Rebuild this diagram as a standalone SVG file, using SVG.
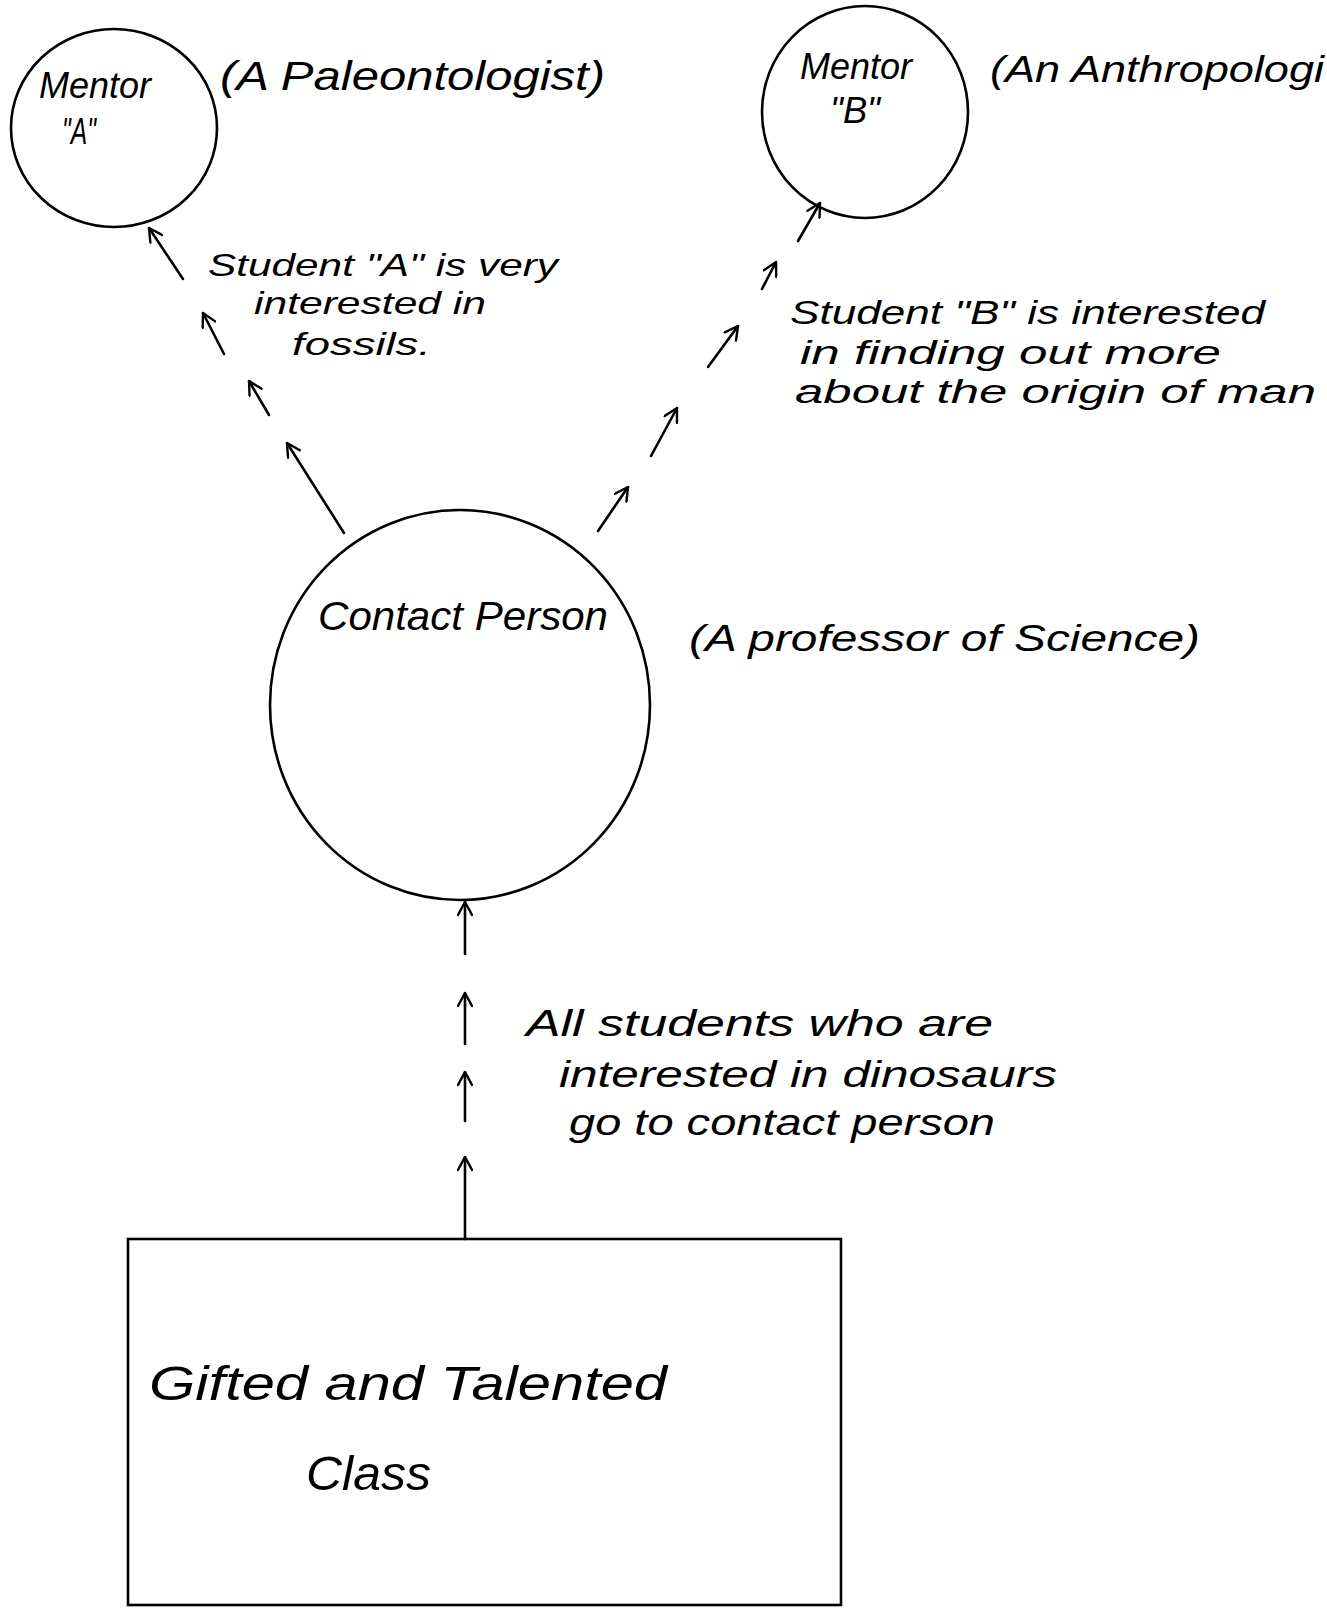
<svg xmlns="http://www.w3.org/2000/svg" width="1327" height="1608" viewBox="0 0 1327 1608">
  <defs>
    <marker id="head" viewBox="0 0 16 16" refX="15" refY="8" markerWidth="16" markerHeight="16" markerUnits="userSpaceOnUse" orient="auto">
      <path d="M2,1 L15,8 L2,15" fill="none" stroke="#000" stroke-width="2.4" stroke-linecap="round" stroke-linejoin="round"/>
    </marker>
  </defs>
  <style>
    .shape { fill: none; stroke: #000; stroke-width: 2.6; }
    .conn line { stroke: #000; stroke-width: 2.6; stroke-linecap: round; marker-end: url(#head); }
    text { font-family: "Liberation Sans", "DejaVu Sans", sans-serif; font-style: italic; fill: #000; }
    .lbl { font-size: 36px; }
    .note { font-size: 32px; }
    .note-b { font-size: 34px; }
    .name { font-size: 40px; }
    .big { font-size: 48px; }
  </style>

  <rect width="1327" height="1608" fill="#fff"/>

  <!-- Mentor A -->
  <g id="mentor-a">
    <ellipse class="shape" cx="114" cy="128" rx="103" ry="99"/>
    <text class="lbl" x="39" y="98" textLength="112" lengthAdjust="spacingAndGlyphs">Mentor</text>
    <text class="lbl" x="62" y="144" textLength="34" lengthAdjust="spacingAndGlyphs">"A"</text>
    <text class="name" x="220" y="90" textLength="385" lengthAdjust="spacingAndGlyphs">(A Paleontologist)</text>
  </g>

  <!-- Mentor B -->
  <g id="mentor-b">
    <ellipse class="shape" cx="865" cy="112" rx="103" ry="106"/>
    <text class="lbl" x="800" y="79" textLength="112" lengthAdjust="spacingAndGlyphs">Mentor</text>
    <text class="lbl" x="830" y="123" textLength="50" lengthAdjust="spacingAndGlyphs">"B"</text>
    <text class="lbl" x="990" y="82" textLength="334" lengthAdjust="spacingAndGlyphs">(An Anthropologi</text>
  </g>

  <!-- Contact person -->
  <g id="contact-person">
    <ellipse class="shape" cx="460" cy="705" rx="190" ry="195"/>
    <text class="name" x="318" y="630" textLength="290" lengthAdjust="spacingAndGlyphs">Contact Person</text>
    <text class="lbl" x="689" y="651" textLength="511" lengthAdjust="spacingAndGlyphs">(A professor of Science)</text>
  </g>

  <!-- Gifted and talented class -->
  <g id="class">
    <rect class="shape" x="128" y="1239" width="713" height="366"/>
    <text class="big" x="149" y="1400" textLength="518" lengthAdjust="spacingAndGlyphs">Gifted and Talented</text>
    <text class="big" x="306" y="1490" textLength="125" lengthAdjust="spacingAndGlyphs">Class</text>
  </g>

  <!-- Connector labels -->
  <g id="labels">
    <text class="note" x="208" y="276" textLength="350" lengthAdjust="spacingAndGlyphs">Student "A" is very</text>
    <text class="note" x="254" y="314" textLength="232" lengthAdjust="spacingAndGlyphs">interested in</text>
    <text class="note" x="292" y="355" textLength="139" lengthAdjust="spacingAndGlyphs">fossils.</text>

    <text class="note-b" x="790" y="324" textLength="475" lengthAdjust="spacingAndGlyphs">Student "B" is interested</text>
    <text class="note-b" x="800" y="364" textLength="421" lengthAdjust="spacingAndGlyphs">in finding out more</text>
    <text class="note-b" x="795" y="403" textLength="521" lengthAdjust="spacingAndGlyphs">about the origin of man</text>

    <text class="lbl" x="526" y="1036" textLength="467" lengthAdjust="spacingAndGlyphs">All students who are</text>
    <text class="lbl" x="559" y="1087" textLength="498" lengthAdjust="spacingAndGlyphs">interested in dinosaurs</text>
    <text class="lbl" x="569" y="1135" textLength="426" lengthAdjust="spacingAndGlyphs">go to contact person</text>
  </g>

  <!-- Dashed arrow chains -->
  <g id="connectors" class="conn">
    <!-- contact person to mentor A -->
    <line x1="344" y1="533" x2="287" y2="443"/>
    <line x1="269" y1="415" x2="249" y2="381"/>
    <line x1="224" y1="354" x2="203" y2="313"/>
    <line x1="183" y1="279" x2="149" y2="228"/>
    <!-- contact person to mentor B -->
    <line x1="598" y1="531" x2="628" y2="487"/>
    <line x1="651" y1="456" x2="677" y2="408"/>
    <line x1="708" y1="367" x2="738" y2="326"/>
    <line x1="762" y1="289" x2="776" y2="262"/>
    <line x1="798" y1="241" x2="820" y2="203"/>
    <!-- class to contact person -->
    <line x1="465" y1="954" x2="465" y2="902"/>
    <line x1="465" y1="1044" x2="465" y2="993"/>
    <line x1="465" y1="1121" x2="465" y2="1072"/>
    <line x1="465" y1="1239" x2="465" y2="1157"/>
  </g>
</svg>
